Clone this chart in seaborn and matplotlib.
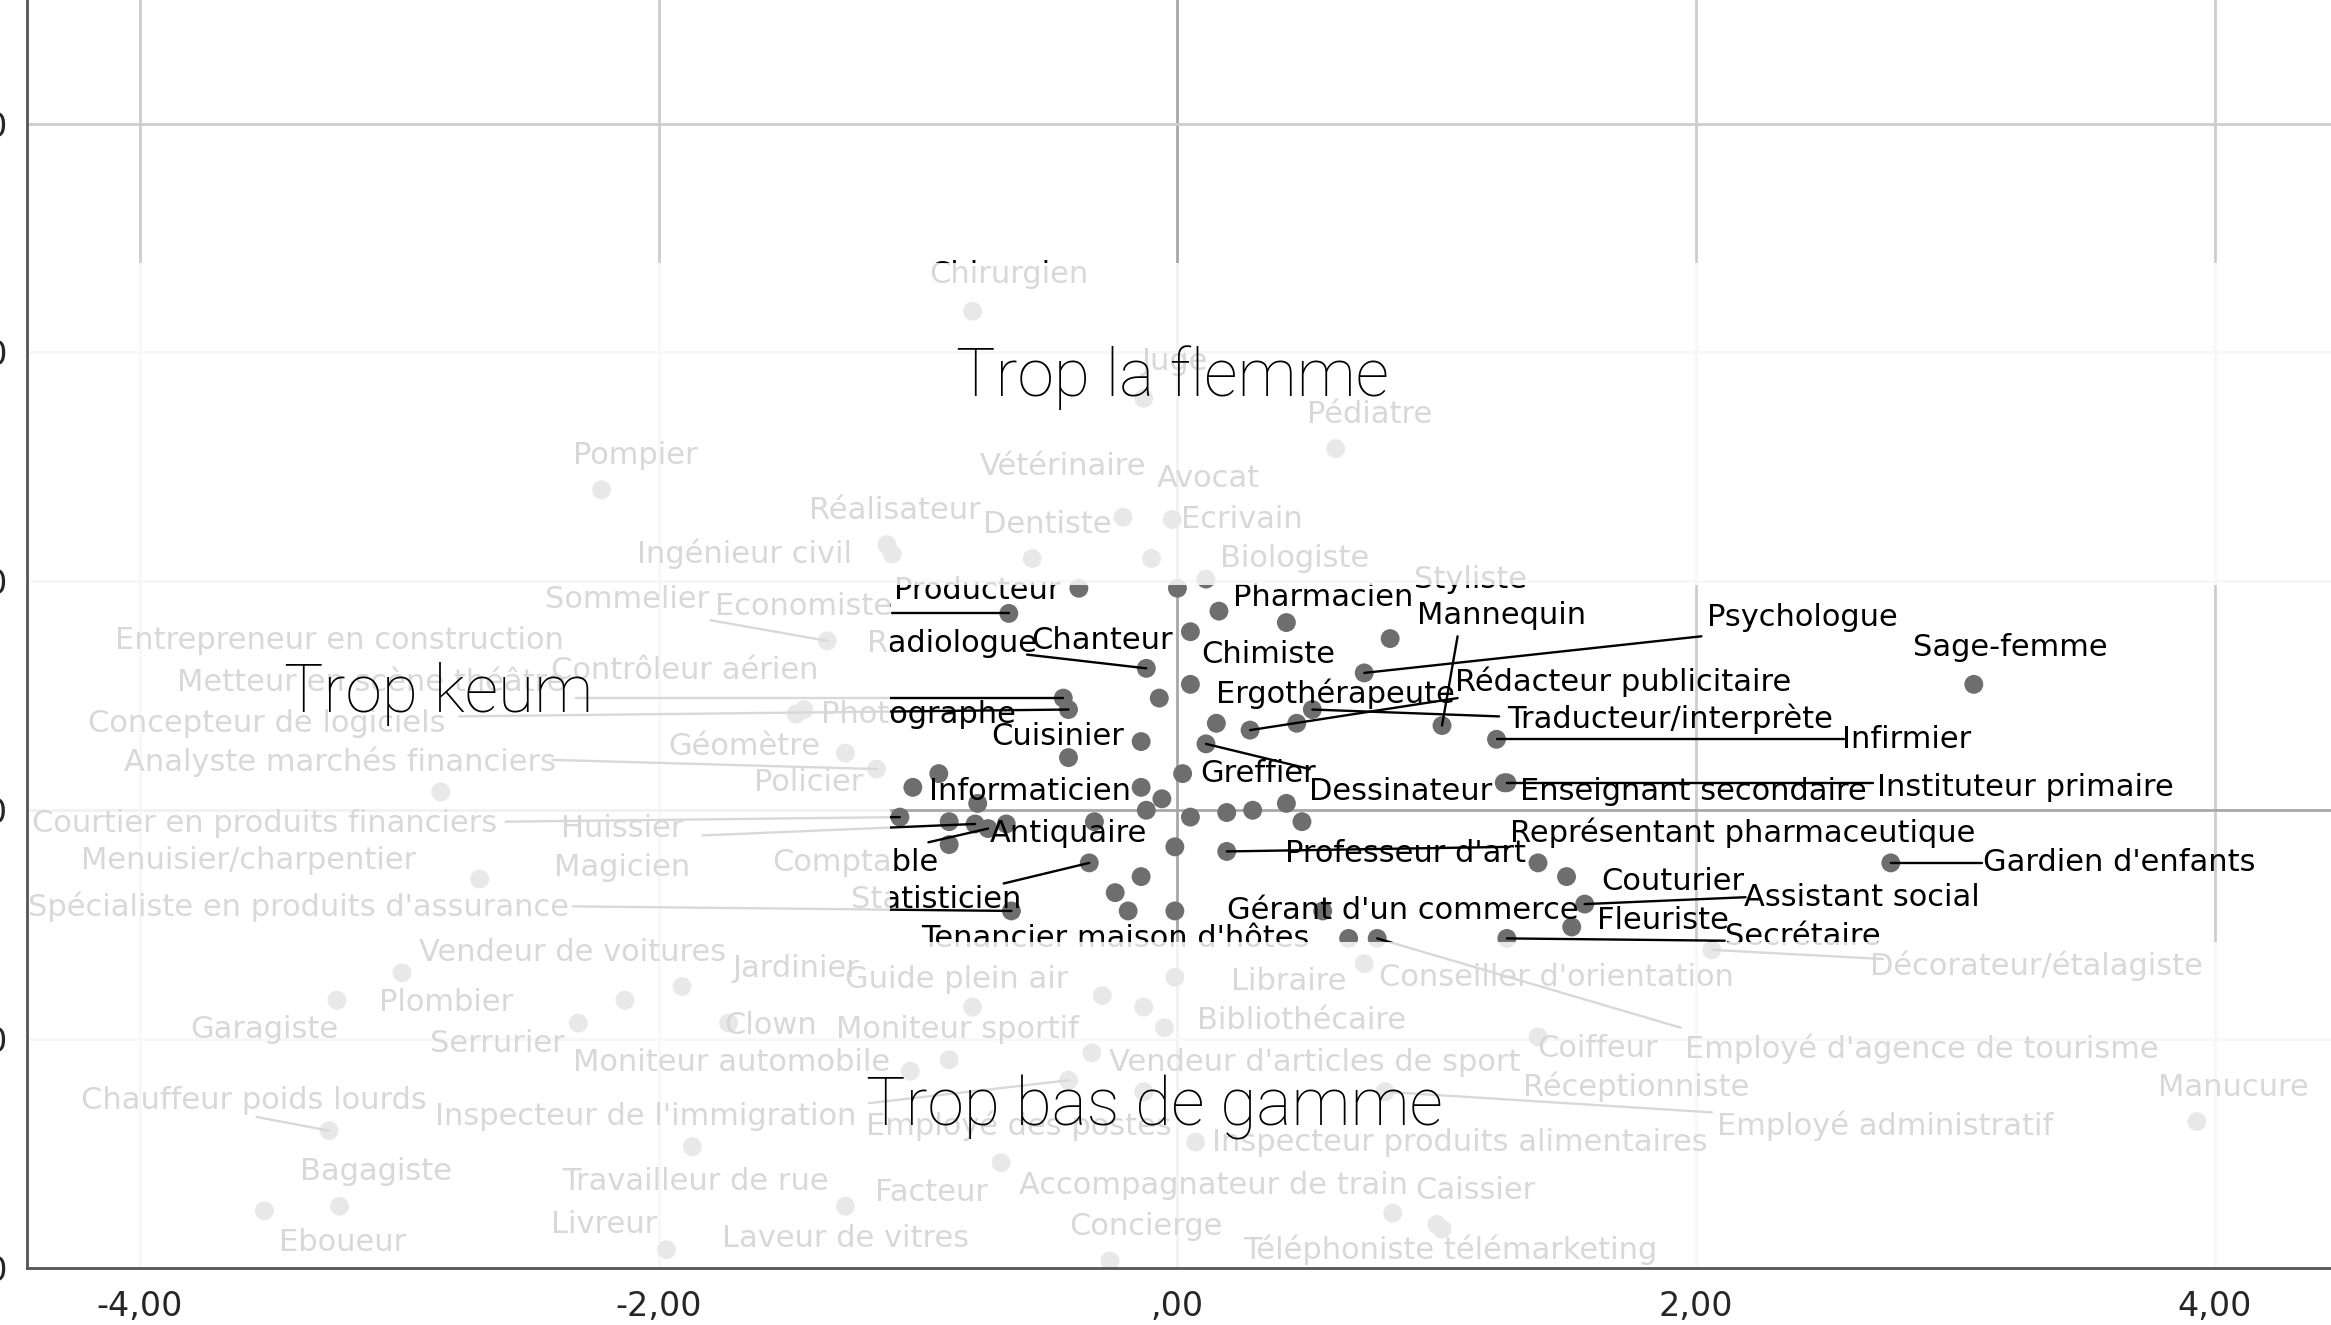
"""Carte des métiers : nuage de points étiqueté avec zones estompées."""

import matplotlib

matplotlib.use("Agg")

import matplotlib.pyplot as plt
import pandas as pd
import seaborn as sns
from matplotlib.patches import Rectangle

# --- data -----------------------------------------------------------------
jobs = [
    # haut (estompé)
    "Chirurgien", "Juge", "Pédiatre", "Pompier", "Vétérinaire", "Avocat", "Réalisateur",
    "Dentiste", "Ecrivain", "Ingénieur civil", "Biologiste", "Producteur", "", "Styliste",
    # gauche
    "Sommelier", "Economiste", "Entrepreneur en construction", "Contrôleur aérien", "Photographe",
    "Metteur en scène théâtre", "Concepteur de logiciels", "Géomètre", "Analyste marchés financiers", "",
    "Courtier en produits financiers", "Huissier", "Magicien", "Menuisier/charpentier", "Comptable",
    "Antiquaire", "Spécialiste en produits d'assurance", "Statisticien",
    # bas gauche
    "Vendeur de voitures", "Plombier", "Garagiste", "Serrurier", "Jardinier", "Clown",
    "Moniteur automobile", "Chauffeur poids lourds", "Inspecteur de l'immigration", "Travailleur de rue",
    "Bagagiste", "Eboueur", "Livreur", "Facteur", "Laveur de vitres",
    # bas centre / droite
    "Guide plein air", "Libraire", "", "Réceptionniste", "Conseiller d'orientation", "Bibliothécaire",
    "Moniteur sportif", "Vendeur d'articles de sport", "Inspecteur produits alimentaires",
    "Employé des postes", "Accompagnateur de train", "Caissier", "Téléphoniste télémarketing",
    "Concierge", "Coiffeur", "Employé d'agence de tourisme", "Employé administratif",
    "Décorateur/étalagiste", "Manucure",
    # centre (non estompé)
    "Pharmacien", "Chimiste", "Mannequin", "Psychologue", "Sage-femme", "Rédacteur publicitaire",
    "Ergothérapeute", "Traducteur/interprète", "", "Infirmier", "Cuisinier", "", "Greffier", "",
    "Dessinateur", "Enseignant secondaire", "Instituteur primaire", "Informaticien", "Policier",
    "", "", "", "", "", "", "", "", "", "",
    "Représentant pharmaceutique", "Professeur d'art", "Couturier", "Assistant social", "Fleuriste",
    "Gardien d'enfants", "Secrétaire", "Gérant d'un commerce", "Tenancier maison d'hôtes",
    "", "", "", "", "Chanteur", "Radiologue", "", "",
]

dim1 = [
    -0.79, -0.13, 0.61, -2.22, -0.21, -0.02, -1.12,
    -0.56, -0.10, -1.10, 0.11, -0.38, 0.00, 0.82,
    -1.35, -0.65, -0.07, -1.47, -1.44,
    -0.44, -0.42, -1.28, -1.16, -2.84,
    -1.07, -0.78, -0.88, -2.69, -0.73,
    -0.66, -0.64, -0.34,
    -2.13, -2.99, -3.24, -2.31, -1.91, -1.73,
    -1.03, -3.27, -0.42, -1.87,
    -3.23, -3.52, -1.97, -0.68, -1.28,
    -0.79, -0.01, -0.29, -0.13, 0.72, -0.05,
    -0.88, -0.33, 0.07,
    -0.13, 0.83, 1.00, 1.02,
    -0.26, 1.39, 0.77, 0.80,
    2.06, 3.93,
    0.16, 0.42, 1.02, 0.72, 3.07, 0.28,
    0.15, 0.52, 0.46, 1.23, -0.14, -0.42, 0.11, 0.02,
    0.42, 1.26, 1.27, -1.02, -0.92,
    -0.14, -0.06, -0.12, 0.05, 0.19, 0.29, 0.48, -0.32, -0.77, -0.88,
    0.19, 1.39, 1.50, 1.57, 1.52,
    2.75, 1.27, -0.01, 0.66,
    -0.01, -0.14, -0.24, -0.19, 0.05, -0.12, 0.05, 0.56,
]

dim2 = [
    2.18, 1.80, 1.58, 1.40, 1.28, 1.27, 1.16,
    1.10, 1.10, 1.12, 1.01, 0.97, 0.97, 0.75,
    0.74, 0.86, 0.49, 0.42, 0.44,
    0.49, 0.44, 0.25, 0.18, 0.08,
    -0.03, -0.06, -0.05, -0.30, -0.08,
    -0.06, -0.44, -0.23,
    -0.83, -0.71, -0.83, -0.93, -0.77, -0.93,
    -1.14, -1.40, -1.18, -1.47,
    -1.73, -1.75, -1.92, -1.54, -1.73,
    -0.86, -0.73, -0.81, -0.86, -0.67, -0.95,
    -1.09, -1.06, -1.45,
    -1.23, -1.76, -1.81, -1.83,
    -1.97, -0.99, -0.56, -1.23,
    -0.61, -1.36,
    0.87, 0.82, 0.37, 0.60, 0.55, 0.35,
    0.38, 0.44, 0.38, 0.31, 0.30, 0.23, 0.29, 0.16,
    0.03, 0.12, 0.12, 0.10, 0.16,
    0.10, 0.05, 0.00, -0.03, -0.01, 0.00, -0.05, -0.05, 0.03, -0.15,
    -0.18, -0.23, -0.29, -0.41, -0.51,
    -0.23, -0.56, -0.44, -0.56,
    -0.16, -0.29, -0.36, -0.44, 0.78, 0.62, 0.55, -0.44,
]

x_ticks = [-4, -2, 0, 2, 4]
x_tick_labels = ["-4,00", "-2,00", ",00", "2,00", "4,00"]
y_ticks = [-2, -1, 0, 1, 2, 3]
y_tick_labels = ["-2,00", "-1,00", ",00", "1,00", "2,00", "3,00"]

zone_titles = ["Trop la flemme", "Trop keum", "Trop bas de gamme"]

# --- label layout (position of each label, and start of its leader line) --
label_pos = {
    "Chirurgien": (-0.65, 2.34), "Juge": (-0.01, 1.96), "Pédiatre": (0.74, 1.73),
    "Pompier": (-2.09, 1.55), "Vétérinaire": (-0.44, 1.50), "Avocat": (0.12, 1.45),
    "Réalisateur": (-1.09, 1.31), "Dentiste": (-0.50, 1.25), "Ecrivain": (0.25, 1.27),
    "Ingénieur civil": (-1.67, 1.12), "Biologiste": (0.45, 1.10), "Producteur": (-0.77, 0.96),
    "Styliste": (1.13, 1.01),
    "Sommelier": (-2.12, 0.92), "Economiste": (-1.44, 0.89),
    "Entrepreneur en construction": (-3.23, 0.74), "Contrôleur aérien": (-1.90, 0.61),
    "Photographe": (-1.00, 0.42), "Metteur en scène théâtre": (-3.11, 0.56),
    "Concepteur de logiciels": (-3.51, 0.38), "Géomètre": (-1.67, 0.28),
    "Analyste marchés financiers": (-3.23, 0.21),
    "Courtier en produits financiers": (-3.52, -0.06), "Huissier": (-2.14, -0.08),
    "Magicien": (-2.14, -0.25), "Menuisier/charpentier": (-3.58, -0.22),
    "Comptable": (-1.24, -0.23), "Antiquaire": (-0.42, -0.10),
    "Spécialiste en produits d'assurance": (-3.39, -0.42), "Statisticien": (-0.93, -0.39),
    "Vendeur de voitures": (-2.33, -0.62), "Plombier": (-2.82, -0.84), "Garagiste": (-3.52, -0.96),
    "Serrurier": (-2.62, -1.02), "Jardinier": (-1.47, -0.69), "Clown": (-1.57, -0.94),
    "Moniteur automobile": (-1.72, -1.10), "Chauffeur poids lourds": (-3.56, -1.27),
    "Inspecteur de l'immigration": (-2.05, -1.34), "Travailleur de rue": (-1.86, -1.62),
    "Bagagiste": (-3.09, -1.58), "Eboueur": (-3.22, -1.89), "Livreur": (-2.21, -1.81),
    "Facteur": (-0.95, -1.67), "Laveur de vitres": (-1.28, -1.87),
    "Guide plein air": (-0.85, -0.74), "Libraire": (0.43, -0.75),
    "Réceptionniste": (1.77, -1.21), "Conseiller d'orientation": (1.46, -0.73),
    "Bibliothécaire": (0.48, -0.92), "Moniteur sportif": (-0.85, -0.96),
    "Vendeur d'articles de sport": (0.53, -1.10), "Inspecteur produits alimentaires": (1.09, -1.45),
    "Employé des postes": (-0.61, -1.38), "Accompagnateur de train": (0.14, -1.64),
    "Caissier": (1.15, -1.66), "Téléphoniste télémarketing": (1.05, -1.92),
    "Concierge": (-0.12, -1.82), "Coiffeur": (1.62, -1.04),
    "Employé d'agence de tourisme": (2.87, -1.04), "Employé administratif": (2.73, -1.38),
    "Décorateur/étalagiste": (3.31, -0.68), "Manucure": (4.07, -1.21),
    "Pharmacien": (0.56, 0.93), "Chimiste": (0.35, 0.68), "Mannequin": (1.25, 0.85),
    "Psychologue": (2.41, 0.84), "Sage-femme": (3.21, 0.71),
    "Rédacteur publicitaire": (1.72, 0.56), "Ergothérapeute": (0.61, 0.51),
    "Traducteur/interprète": (1.90, 0.40), "Infirmier": (2.81, 0.31), "Cuisinier": (-0.46, 0.32),
    "Greffier": (0.31, 0.16), "Dessinateur": (0.86, 0.08), "Enseignant secondaire": (1.99, 0.08),
    "Instituteur primaire": (3.27, 0.10), "Informaticien": (-0.57, 0.08), "Policier": (-1.42, 0.12),
    "Représentant pharmaceutique": (2.18, -0.10), "Professeur d'art": (0.88, -0.19),
    "Couturier": (1.91, -0.31), "Assistant social": (2.64, -0.38), "Fleuriste": (1.87, -0.48),
    "Gardien d'enfants": (3.63, -0.23), "Secrétaire": (2.41, -0.55),
    "Gérant d'un commerce": (0.87, -0.44), "Tenancier maison d'hôtes": (-0.24, -0.56),
    "Chanteur": (-0.29, 0.74), "Radiologue": (-0.87, 0.73),
}

leader_start = {
    "Sommelier": (-1.80, 0.83), "Economiste": (-1.10, 0.86),
    "Metteur en scène théâtre": (-2.32, 0.49), "Concepteur de logiciels": (-2.77, 0.41),
    "Analyste marchés financiers": (-2.41, 0.22), "Courtier en produits financiers": (-2.59, -0.05),
    "Huissier": (-1.83, -0.11), "Comptable": (-0.96, -0.14),
    "Spécialiste en produits d'assurance": (-2.33, -0.42), "Statisticien": (-0.67, -0.32),
    "Chauffeur poids lourds": (-3.55, -1.34), "Inspecteur de l'immigration": (-1.19, -1.28),
    "Employé d'agence de tourisme": (1.94, -0.95), "Employé administratif": (2.06, -1.32),
    "Décorateur/étalagiste": (2.72, -0.65), "Mannequin": (1.08, 0.76),
    "Psychologue": (2.02, 0.76), "Rédacteur publicitaire": (1.08, 0.49),
    "Traducteur/interprète": (1.24, 0.41), "Infirmier": (2.57, 0.31), "Greffier": (0.51, 0.18),
    "Instituteur primaire": (2.68, 0.12), "Représentant pharmaceutique": (1.28, -0.16),
    "Assistant social": (2.19, -0.38), "Gardien d'enfants": (3.10, -0.23),
    "Secrétaire": (2.11, -0.57), "Radiologue": (-0.58, 0.68),
}

title_pos = [(-0.02, 1.89), (-2.85, 0.51), (-0.09, -1.30)]

df = pd.DataFrame({"metier": jobs, "dim1": dim1, "dim2": dim2})

# --- figure ---------------------------------------------------------------
sns.set_style("white")
plt.rcParams["font.family"] = ["DejaVu Sans"]

fig = plt.figure(figsize=(23.31, 13.25), dpi=100)
ax = fig.add_axes([27 / 2331, 57 / 1325, 2304 / 2331, 1268 / 1325])
xlim = (-4.435, 4.447)
ylim = (-2.0, 3.54)

for xv in x_ticks:
    ax.axvline(xv, color="#a8a8a8" if xv == 0 else "#cdcdcd", lw=2.0, zorder=0)
for yv in y_ticks[1:]:
    ax.axhline(yv, color="#a8a8a8" if yv == 0 else "#cdcdcd", lw=2.0, zorder=0)

sns.scatterplot(data=df, x="dim1", y="dim2", color="#6e6e6e", s=185, edgecolor="none",
                legend=False, ax=ax, zorder=2)

for name, px, py in zip(jobs, dim1, dim2):
    if not name:
        continue
    lx, ly = label_pos[name]
    ax.text(lx, ly, name, ha="center", va="center", fontsize=22, color="black", zorder=3)
    if name in leader_start:
        sx, sy = leader_start[name]
        ax.plot([sx, px], [sy, py], color="black", lw=1.7, zorder=2.5)

# white veil over everything except the central band
veil = dict(facecolor="white", edgecolor="none", alpha=0.85, zorder=5)
ax.add_patch(Rectangle((xlim[0], 0.985), xlim[1] - xlim[0], 2.39 - 0.985, **veil))
ax.add_patch(Rectangle((xlim[0], -0.575), -1.11 - xlim[0], 0.985 + 0.575, **veil))
ax.add_patch(Rectangle((xlim[0], ylim[0]), xlim[1] - xlim[0], -0.575 - ylim[0], **veil))

for text, (tx, ty) in zip(zone_titles, title_pos):
    ax.text(tx, ty, text, ha="center", va="center", fontsize=47.5, family="Roboto",
            fontweight="light", color="black", zorder=6)

ax.set_xlim(*xlim)
ax.set_ylim(*ylim)
ax.set_xticks(x_ticks)
ax.set_xticklabels(x_tick_labels)
ax.set_yticks(y_ticks)
ax.set_yticklabels(y_tick_labels)
ax.tick_params(axis="x", length=0, pad=16, labelsize=24)
ax.tick_params(axis="y", length=0, pad=14, labelsize=24)
ax.set_xlabel("")
ax.set_ylabel("")

for side in ("top", "right"):
    ax.spines[side].set_visible(False)
for side in ("left", "bottom"):
    ax.spines[side].set_color("#555555")
    ax.spines[side].set_linewidth(2.0)
    ax.spines[side].set_zorder(7)

fig.savefig("out.png", dpi=100)
